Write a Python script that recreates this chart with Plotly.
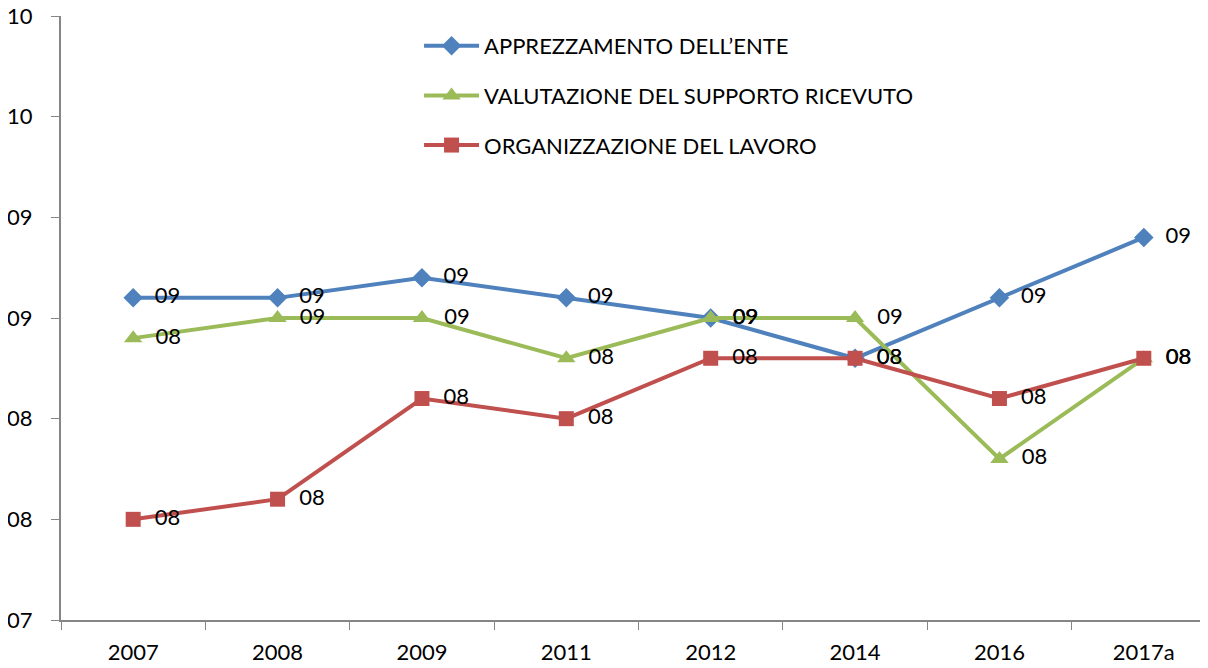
import plotly.graph_objects as go

years = ["2007", "2008", "2009", "2011", "2012", "2014", "2016", "2017a"]
apprezzamento = [8.6, 8.6, 8.7, 8.6, 8.5, 8.3, 8.6, 8.9]
valutazione = [8.4, 8.5, 8.5, 8.3, 8.5, 8.5, 7.8, 8.3]
organizzazione = [7.5, 7.6, 8.1, 8.0, 8.3, 8.3, 8.1, 8.3]

font_name = "Lato"

series = [
    ("APPREZZAMENTO DELL\u2019ENTE", apprezzamento, "#4F81BD", "diamond", 15),
    ("VALUTAZIONE DEL SUPPORTO RICEVUTO", valutazione, "#9BBB59", "triangle-up", 16),
    ("ORGANIZZAZIONE DEL LAVORO", organizzazione, "#C0504D", "square", 15),
]

fig = go.Figure()
for i, (name, vals, color, symbol, size) in enumerate(series):
    fig.add_trace(go.Scatter(
        x=years, y=vals, name=name, mode="lines+markers+text",
        line=dict(color=color, width=4),
        marker=dict(symbol=symbol, size=size, color=color),
        texttemplate="  %{y:02.0f}", textposition="middle right",
        textfont=dict(size=22, color="black", family=font_name),
        legendgroup=str(i),
    ))

# page body adds an 8px offset, margins compensate for it
fig.update_layout(
    width=1208, height=668,
    margin=dict(l=53, r=0, t=8, b=56),
    paper_bgcolor="white", plot_bgcolor="white",
    font=dict(family=font_name, size=22, color="black"),
    legend=dict(x=0.31, y=0.985, xanchor="left", yanchor="top",
                bgcolor="rgba(0,0,0,0)", tracegroupgap=18, itemwidth=55,
                font=dict(size=22)),
)
fig.update_xaxes(
    type="category", range=[-0.5, 7.5], automargin=False,
    showline=True, linecolor="#868686", linewidth=2,
    ticks="outside", tickson="boundaries", ticklen=8, tickcolor="#868686",
    showgrid=False, zeroline=False, ticklabelstandoff=12,
)
fig.update_yaxes(
    range=[7, 10], dtick=0.5, tickformat="02.0f", automargin=False,
    ticklabeloverflow="allow",
    showline=True, linecolor="#868686", linewidth=2,
    ticks="outside", ticklen=8, tickcolor="#868686",
    showgrid=False, zeroline=False, ticklabelstandoff=14,
)

fig.write_html("out.html")
